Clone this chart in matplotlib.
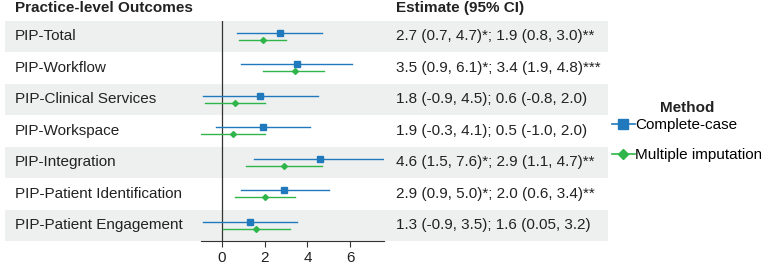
import matplotlib
matplotlib.use("Agg")
import matplotlib.pyplot as plt
from matplotlib.transforms import blended_transform_factory
from matplotlib.patches import Rectangle
from matplotlib.lines import Line2D

plt.rcParams['font.family'] = ['Liberation Sans', 'DejaVu Sans']

outcomes = ["PIP-Total", "PIP-Workflow", "PIP-Clinical Services", "PIP-Workspace",
            "PIP-Integration", "PIP-Patient Identification", "PIP-Patient Engagement"]
cc_est = [2.7, 3.5, 1.8, 1.9, 4.6, 2.9, 1.3]
cc_lo = [0.7, 0.9, -0.9, -0.3, 1.5, 0.9, -0.9]
cc_hi = [4.7, 6.1, 4.5, 4.1, 7.6, 5.0, 3.5]
mi_est = [1.9, 3.4, 0.6, 0.5, 2.9, 2.0, 1.6]
mi_lo = [0.8, 1.9, -0.8, -1.0, 1.1, 0.6, 0.05]
mi_hi = [3.0, 4.8, 2.0, 2.0, 4.7, 3.4, 3.2]
estimate_text = ["2.7 (0.7, 4.7)*; 1.9 (0.8, 3.0)**",
                 "3.5 (0.9, 6.1)*; 3.4 (1.9, 4.8)***",
                 "1.8 (-0.9, 4.5); 0.6 (-0.8, 2.0)",
                 "1.9 (-0.3, 4.1); 0.5 (-1.0, 2.0)",
                 "4.6 (1.5, 7.6)*; 2.9 (1.1, 4.7)**",
                 "2.9 (0.9, 5.0)*; 2.0 (0.6, 3.4)**",
                 "1.3 (-0.9, 3.5); 1.6 (0.05, 3.2)"]
xticks = [0, 2, 4, 6]
methods = ["Complete-case", "Multiple imputation"]

W, H = 761, 267
FS = 11
fig = plt.figure(figsize=(W / 100, H / 100), dpi=100)
ax_l, ax_r, ax_t, ax_b = 200.7, 384.2, 20.5, 241.0
ax = fig.add_axes([ax_l / W, 1 - ax_b / H, (ax_r - ax_l) / W, (ax_b - ax_t) / H])
ax.set_facecolor('none')

blue = '#2079bd'
green = '#2fb54a'
off = 0.115
n = len(outcomes)
ys = list(range(1, n + 1))

bt = blended_transform_factory(fig.transFigure, ax.transData)
for i, y in enumerate(ys):
    if i % 2 == 0:
        ax.add_patch(Rectangle((5 / W, y - 0.5), (608 - 5) / W, 1.0, transform=bt,
                               facecolor='#eef0ef', edgecolor='none', zorder=0, clip_on=False))
    ax.text(15 / W, y, outcomes[i], transform=bt, ha='left', va='center', fontsize=FS, color='#222222')
    ax.text(396 / W, y, estimate_text[i], transform=bt, ha='left', va='center', fontsize=FS, color='#222222')

ax.text(15 / W, 1 - 8 / H, "Practice-level Outcomes", transform=fig.transFigure, ha='left', va='center',
        fontsize=FS, fontweight='bold', color='#222222')
ax.text(396 / W, 1 - 8 / H, "Estimate (95% CI)", transform=fig.transFigure, ha='left', va='center',
        fontsize=FS, fontweight='bold', color='#222222')

ax.axvline(0, color='#333333', lw=0.9, zorder=1)

for i, y in enumerate(ys):
    ax.plot([cc_lo[i], cc_hi[i]], [y - off, y - off], color=blue, lw=1.0, zorder=2)
    ax.plot([cc_est[i]], [y - off], marker='s', color=blue, ms=4, zorder=3, ls='none')
    ax.plot([mi_lo[i], mi_hi[i]], [y + off, y + off], color=green, lw=1.0, zorder=2)
    ax.plot([mi_est[i]], [y + off], marker='D', color=green, ms=3, zorder=3, ls='none')

ax.set_xlim(-1.0, 7.6)
ax.set_ylim(n + 0.5, 0.5)
ax.set_xticks(xticks)
ax.set_xticklabels([str(t) for t in xticks], fontsize=FS, color='#222222')
ax.set_yticks([])
for s in ['top', 'right', 'left']:
    ax.spines[s].set_visible(False)
ax.spines['bottom'].set_color('#333333')
ax.spines['bottom'].set_linewidth(0.8)
ax.tick_params(axis='x', length=4, width=0.8, color='#333333', pad=3)

handles = [Line2D([], [], color=blue, marker='s', ms=6.5, lw=1.2),
           Line2D([], [], color=green, marker='D', ms=5, lw=1.2)]
fig.text(687 / W, 1 - 108 / H, "Method", ha='center', va='center', fontsize=FS,
         fontweight='bold', color='#222222')
leg = fig.legend(handles, methods, loc='upper left', bbox_to_anchor=(612 / W, 1 - 118 / H),
                 frameon=False, fontsize=FS, handlelength=1.5, handletextpad=0.0,
                 labelspacing=1.05, borderaxespad=0, borderpad=0)

fig.savefig("out.png", dpi=100)
